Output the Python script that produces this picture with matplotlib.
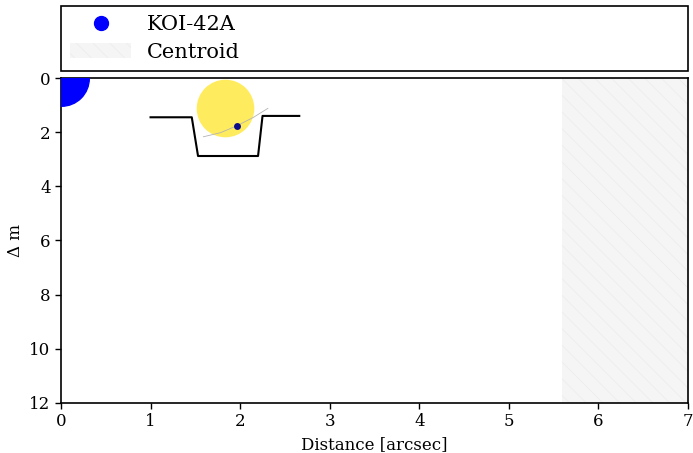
import matplotlib
matplotlib.use("Agg")
import matplotlib.pyplot as plt
from matplotlib.lines import Line2D
from matplotlib.patches import Patch

plt.rcParams['font.family'] = ['DejaVu Serif']
plt.rcParams['hatch.linewidth'] = 0.6
plt.rcParams['hatch.color'] = '0.93'

# Data
star_name = "KOI-42A"
star_dist = [0.0]
star_dm = [0.0]
centroid_limit = 5.59
x_max = 7
dm_max = 12
x_ticks = [0, 1, 2, 3, 4, 5, 6, 7]
y_ticks = [0, 2, 4, 6, 8, 10, 12]

# decorative transit logo (data coords)
lc_x = [1.00, 1.46, 1.53, 2.20, 2.25, 2.66]
lc_y = [1.45, 1.45, 2.88, 2.88, 1.40, 1.40]
sun_x, sun_y = [1.827], [1.12]
planet_x, planet_y = [1.96], [1.77]
orbit_x = [1.59, 1.78, 1.96, 2.15, 2.31]
orbit_y = [2.17, 2.02, 1.77, 1.45, 1.12]

fig = plt.figure(figsize=(6.93, 4.53), dpi=100)
ax = fig.add_axes([0.088, 0.1104, 0.9048, 0.7174])

ax.axvspan(centroid_limit, x_max, facecolor='0.96', edgecolor='0.93', hatch='\\\\', lw=0, zorder=0)

ax.plot(star_dist, star_dm, 'o', color='blue', ms=40, mec='blue', zorder=3)

ax.plot(lc_x, lc_y, color='black', lw=1.5, zorder=2)
ax.plot(sun_x, sun_y, 'o', color='#ffec5e', ms=41.5, mec='none', zorder=3)
ax.plot(orbit_x, orbit_y, color='0.7', lw=0.6, zorder=4)
ax.plot(planet_x, planet_y, 'o', color='#0b0b8a', ms=5, mec='none', zorder=5)

ax.set_xlim(0, x_max)
ax.set_ylim(dm_max, 0)
ax.set_xticks(x_ticks)
ax.set_yticks(y_ticks)
ax.tick_params(direction='out', length=4, width=1, labelsize=12, top=False, right=False)
for s in ax.spines.values():
    s.set_linewidth(1.2)
ax.set_xlabel('Distance [arcsec]', fontsize=12)
ax.set_ylabel('Δ m', fontsize=12)

handles = [Line2D([], [], marker='o', color='blue', ls='none', ms=10),
           Patch(facecolor='0.96', edgecolor='0.93', hatch='\\\\', lw=0)]
leg = ax.legend(handles, [star_name, 'Centroid'], loc='lower left',
                bbox_to_anchor=(0, 1.0215, 1, 0.197), mode='expand', borderaxespad=0,
                fontsize=15, fancybox=False, framealpha=1, edgecolor='black',
                handlelength=2.9, labelspacing=0.4, handletextpad=0.75, borderpad=0.45)
leg.get_frame().set_linewidth(1.2)

fig.savefig('out.png', dpi=100)
